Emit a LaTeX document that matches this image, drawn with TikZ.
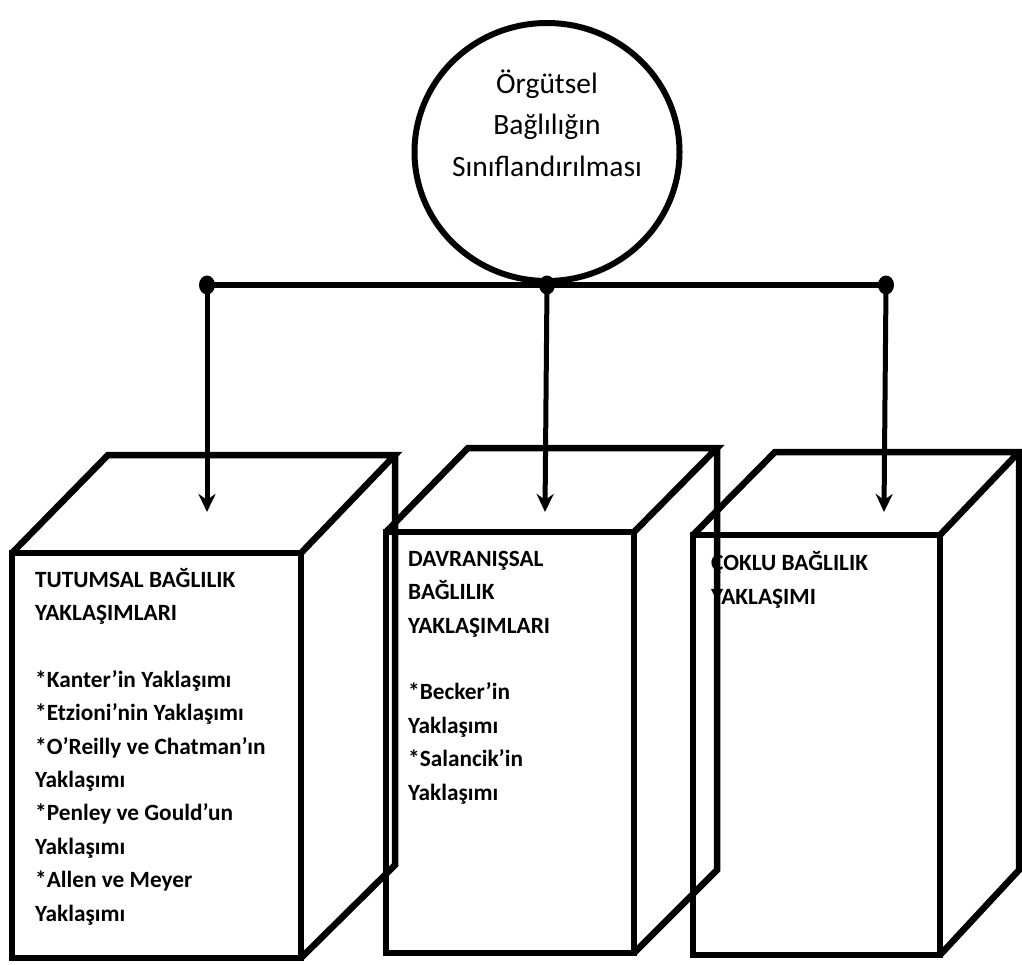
\documentclass[tikz,border=0pt]{standalone}
\usepackage{fontspec}
\setmainfont{Carlito}
\usepackage{tikz}
\usetikzlibrary{arrows.meta}
\usetikzlibrary{shapes.geometric}
\tikzset{
    box_line/.style = {line width=6.5pt, line join=miter},
    box_text/.style = {anchor=base west, align=left, inner sep=0pt, font=\bfseries\fontsize{23.3}{33.4}\selectfont},
    root_node/.style = {ellipse, draw=black, line width=6pt, inner sep=0pt, minimum width=265pt, minimum height=258pt},
    root_text/.style = {align=center, inner sep=0pt, font=\fontsize{29.5}{41.5}\selectfont},
    dot_node/.style = {ellipse, fill=black, inner sep=0pt, minimum width=16pt, minimum height=19pt},
    link/.style = {line width=5pt, -{Stealth[length=18pt, width=17pt]}}
}

\begin{document}
\begin{tikzpicture}[x=1pt, y=-1pt]
    \useasboundingbox (0,0) rectangle (1022,964);

    % top of the tree
    \node [root_node] (root) at (547,152) {};
    \node [root_text] (root_label) at (547,123) {Örgütsel\\Bağlılığın\\Sınıflandırılması};

    % bus and arrows
    \node [dot_node] (dot_l) at (207,285) {};
    \node [dot_node] (dot_m) at (547,285) {};
    \node [dot_node] (dot_r) at (886,285) {};
    \coordinate (tip_l) at (207,512);
    \coordinate (tip_m) at (545,512);
    \coordinate (tip_r) at (884,512);
    \draw [line width=6pt] (dot_l.center) -- (dot_r.center);
    \draw [link] (dot_l.center) -- (tip_l);
    \draw [link] (dot_m.center) -- (tip_m);
    \draw [link] (dot_r.center) -- (tip_r);

    % texts of the boxes (base = last line)
    \node [box_text] (tutum_text) at (35,921)
        {TUTUMSAL BAĞLILIK\\YAKLAŞIMLARI\\[33.4pt]*Kanter’in Yaklaşımı\\*Etzioni’nin Yaklaşımı\\*O’Reilly ve Chatman’ın\\Yaklaşımı\\*Penley ve Gould’un\\Yaklaşımı\\*Allen ve Meyer\\Yaklaşımı};
    \node [box_text] (davran_text) at (408,800)
        {DAVRANIŞSAL\\BAĞLILIK\\YAKLAŞIMLARI\\[33.4pt]*Becker’in\\Yaklaşımı\\*Salancik’in\\Yaklaşımı};
    \node [box_text] (coklu_text) at (711,604)
        {ÇOKLU BAĞLILIK\\YAKLAŞIMI};

    % boxes
    \draw [box_line] (12,553) rectangle (301,958);
    \draw [box_line] (12,553) -- (108,455) -- (395,455) -- (301,553);
    \draw [box_line] (395,455) -- (395,865) -- (301,958);

    \draw [box_line] (386,532) rectangle (634,953);
    \draw [box_line] (386,532) -- (468,448) -- (717,448) -- (634,532);
    \draw [box_line] (717,448) -- (717,870) -- (634,953);

    \draw [box_line] (693,535) rectangle (940,955);
    \draw [box_line] (693,535) -- (775,452) -- (1019,452) -- (940,535);
    \draw [box_line] (1019,452) -- (1019,870) -- (940,955);
\end{tikzpicture}
\end{document}
